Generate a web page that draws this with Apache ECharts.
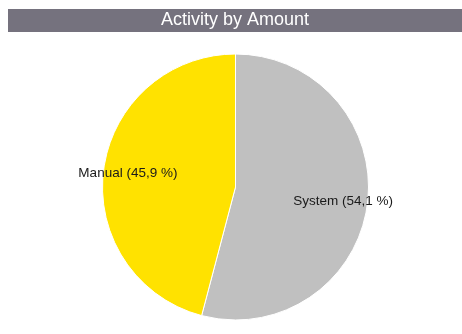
<!DOCTYPE html>
<html><head><meta charset="utf-8">
<script src="https://cdn.jsdelivr.net/npm/echarts@6/dist/echarts.min.js"></script>
<style>html,body{margin:0;padding:0;background:#fff}#c{width:462px;height:334px}</style>
</head><body><div id="c"></div>
<script>
var categories = ['System', 'Manual'];
var values = [54.1, 45.9];
var colors = ['#c0c0c0', '#ffe200'];
var titleText = 'Activity by Amount';

var data = categories.map(function (n, i) { return { name: n, value: values[i], itemStyle: { color: colors[i] } }; });
var chart = echarts.init(document.getElementById('c'), null, { renderer: 'canvas' });
chart.setOption({
  animation: false,
  graphic: [
    { type: 'rect', shape: { x: 8, y: 9, width: 454, height: 23 }, style: { fill: '#75727e' } },
    { type: 'text', x: 235, y: 20.5, style: { text: titleText, fill: '#ffffff', font: '18px "Liberation Sans", Arial, sans-serif', textAlign: 'center', textVerticalAlign: 'middle' } }
  ],
  series: [
    {
      type: 'pie', center: [235.5, 187], radius: 133, startAngle: 90, clockwise: true,
      label: { show: false }, labelLine: { show: false }, silent: true,
      itemStyle: { borderColor: '#ffffff', borderWidth: 1 },
      data: data
    },
    {
      type: 'pie', center: [235.5, 187], radius: [78, 133], startAngle: 90, clockwise: true, silent: true,
      itemStyle: { color: 'transparent', borderWidth: 0 },
      label: {
        show: true, position: 'inside', color: '#1a1a1a',
        fontFamily: '"Liberation Sans", Arial, sans-serif', fontSize: 13.5,
        formatter: function (p) { return p.name + ' (' + p.value.toFixed(1).replace('.', ',') + ' %)'; }
      },
      labelLine: { show: false },
      data: categories.map(function (n, i) { return { name: n, value: values[i] }; })
    }
  ]
});
</script></body></html>
